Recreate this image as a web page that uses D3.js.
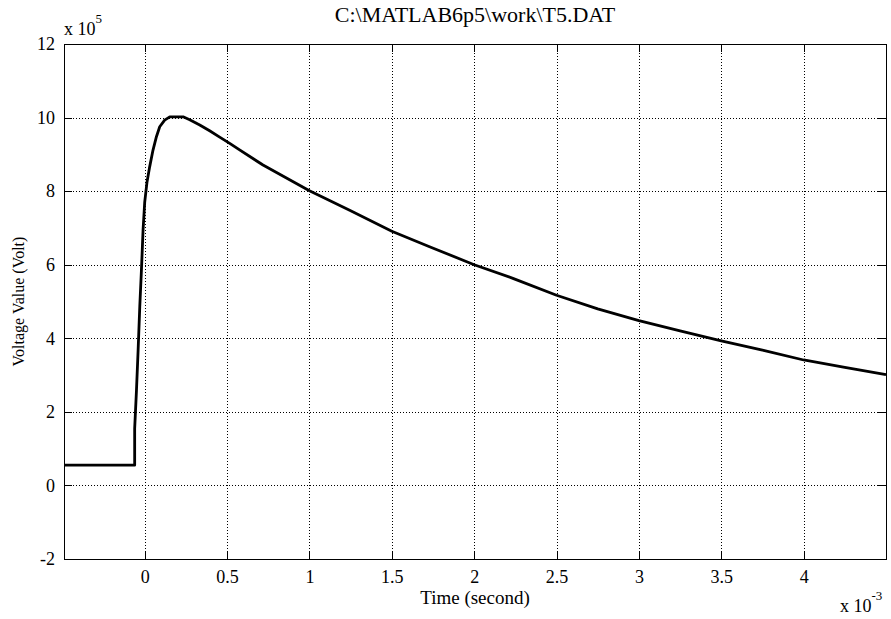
<!DOCTYPE html>
<html>
<head>
<meta charset="utf-8">
<script src="https://cdn.jsdelivr.net/npm/d3@7"></script>
<style>
    body { margin: 0; background: #fff; }
    text { font-family: "Liberation Serif", "Times New Roman", serif; fill: #000; }
</style>
</head>
<body>
<div id="chart"></div>
<script>
// Time in ms (axis shows x 10^-3 s)
var timeMs = [-0.49, -0.061, -0.061, -0.050, -0.040, -0.030, -0.020, -0.010, 0.000, 0.014,
    0.030, 0.050, 0.071, 0.091, 0.121, 0.152, 0.233, 0.273, 0.334, 0.394,
    0.455, 0.516, 0.576, 0.718, 1.000, 1.244, 1.500, 1.729, 2.000, 2.235,
    2.500, 2.750, 3.000, 3.250, 3.500, 3.750, 4.000, 4.250, 4.500];

// Voltage in units of 10^5 V
var voltage = [0.55, 0.55, 1.55, 2.59, 3.68, 4.86, 5.85, 6.94, 7.70, 8.25,
    8.66, 9.11, 9.48, 9.75, 9.93, 10.02, 10.02, 9.94, 9.80, 9.64,
    9.47, 9.30, 9.12, 8.71, 8.01, 7.48, 6.91, 6.49, 6.00, 5.63,
    5.17, 4.80, 4.48, 4.20, 3.93, 3.68, 3.41, 3.21, 3.01];

var xTicks = [0, 0.5, 1, 1.5, 2, 2.5, 3, 3.5, 4];
var yTicks = [-2, 0, 2, 4, 6, 8, 10, 12];

var title = "C:\\MATLAB6p5\\work\\T5.DAT";
var xLabel = "Time (second)";
var yLabel = "Voltage Value (Volt)";

function init() {
    var w = 891;
    var h = 619;
    var left = 64, right = 886, top = 44, bottom = 559;

    var x = d3.scaleLinear().domain([-0.49, 4.5]).range([left, right]);
    var y = d3.scaleLinear().domain([-2, 12]).range([bottom, top]);

    // snap to pixel centres so the 1px lines stay sharp
    var px = function (v) { return Math.round(v) + 0.5; };

    var svg = d3.select("#chart")
        .append("svg")
        .attr("width", w)
        .attr("height", h);

    // Dotted grid
    svg.append("g").selectAll("line")
        .data(xTicks)
        .enter()
        .append("line")
        .attr("x1", d => px(x(d))).attr("x2", d => px(x(d)))
        .attr("y1", top).attr("y2", bottom)
        .attr("stroke", "#000")
        .attr("stroke-dasharray", "1,2");

    svg.append("g").selectAll("line")
        .data(yTicks)
        .enter()
        .append("line")
        .attr("x1", left).attr("x2", right)
        .attr("y1", d => px(y(d))).attr("y2", d => px(y(d)))
        .attr("stroke", "#000")
        .attr("stroke-dasharray", "1,2");

    // Axes with inward ticks
    var tickLen = 8;
    var fmt = function (d) { return String(d); }; // plain hyphen for -2
    var xAxis = svg.append("g")
        .attr("transform", "translate(0," + Math.round(bottom) + ")")
        .call(d3.axisBottom(x).tickValues(xTicks).tickSize(-tickLen).tickPadding(11).tickFormat(fmt));
    var xTop = svg.append("g")
        .attr("transform", "translate(0," + Math.round(top) + ")")
        .call(d3.axisTop(x).tickValues(xTicks).tickSize(-tickLen).tickFormat(""));
    var yAxis = svg.append("g")
        .attr("transform", "translate(" + Math.round(left) + ",0)")
        .call(d3.axisLeft(y).tickValues(yTicks).tickSize(-tickLen).tickPadding(9).tickFormat(fmt));
    var yRight = svg.append("g")
        .attr("transform", "translate(" + Math.round(right) + ",0)")
        .call(d3.axisRight(y).tickValues(yTicks).tickSize(-tickLen).tickFormat(""));

    [xAxis, xTop, yAxis, yRight].forEach(function (g) {
        g.select(".domain").remove();
        g.selectAll("line").attr("stroke", "#000").attr("shape-rendering", "crispEdges");
        g.selectAll("text").style("font-size", "18px").attr("font-family", null);
    });

    // Box
    svg.append("rect")
        .attr("x", px(left)).attr("y", px(top))
        .attr("width", right - left).attr("height", bottom - top)
        .attr("fill", "none")
        .attr("stroke", "#000");

    // Curve
    var points = timeMs.map(function (t, i) { return [t, voltage[i]]; });
    var line = d3.line()
        .x(d => x(d[0]))
        .y(d => y(d[1]));
    svg.append("path")
        .datum(points)
        .attr("d", line)
        .attr("fill", "none")
        .attr("stroke", "#000")
        .attr("stroke-width", 2.8)
        .attr("stroke-linejoin", "round");

    // Title and labels
    svg.append("text")
        .attr("x", (left + right) / 2).attr("y", 22)
        .attr("text-anchor", "middle")
        .style("font-size", "22px")
        .text(title);

    svg.append("text")
        .attr("x", (left + right) / 2).attr("y", 604)
        .attr("text-anchor", "middle")
        .style("font-size", "19px")
        .text(xLabel);

    svg.append("text")
        .attr("transform", "translate(24," + ((top + bottom) / 2) + ") rotate(-90)")
        .attr("text-anchor", "middle")
        .style("font-size", "16px")
        .text(yLabel);

    // Exponent labels
    var expY = svg.append("text").attr("x", left).attr("y", 35).style("font-size", "18px");
    expY.append("tspan").text("x 10");
    expY.append("tspan").attr("dy", -12).style("font-size", "13px").text("5");

    var expX = svg.append("text").attr("x", 840).attr("y", 612).style("font-size", "18px");
    expX.append("tspan").text("x 10");
    expX.append("tspan").attr("dy", -12).style("font-size", "13px").text("-3");
}

window.onload = init;
</script>
</body>
</html>
